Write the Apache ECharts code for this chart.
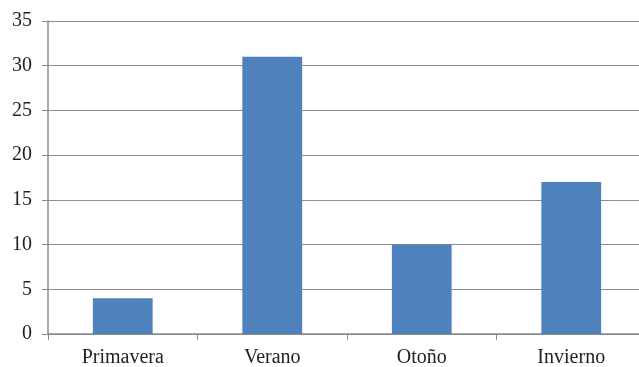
<!DOCTYPE html>
<html>
<head>
<meta charset="utf-8">
<title>Estaciones</title>
<script src="https://cdn.jsdelivr.net/npm/echarts@6/dist/echarts.min.js"></script>
<style>
  html, body { margin: 0; padding: 0; background: #fff; }
  #chart { width: 639px; height: 367px; }
</style>
</head>
<body>
<div id="chart"></div>
<script>
    // datos
    var estaciones = ['Primavera', 'Verano', 'Otoño', 'Invierno'];
    var valores = [4, 31, 10, 17];
    var yMin = 0, yMax = 35, yPaso = 5;

    var gris = '#8c8c8c';
    var fuente = '"Liberation Serif", "DejaVu Serif", serif';
    var chart = echarts.init(document.getElementById('chart'));
    var option = {
        animation: false,
        textStyle: { fontFamily: fuente },
        grid: { left: 48, top: 21, right: -7, bottom: 33, containLabel: false, outerBoundsMode: 'none' },
        xAxis: {
            type: 'category',
            data: estaciones,
            axisLine: { lineStyle: { color: gris, width: 1.5 } },
            axisTick: { show: true, length: 6, lineStyle: { color: gris } },
            axisLabel: { color: '#222', fontSize: 20, margin: 14, fontFamily: fuente }
        },
        yAxis: {
            type: 'value',
            min: yMin,
            max: yMax,
            interval: yPaso,
            axisLine: { show: true, lineStyle: { color: gris, width: 1.5 } },
            axisTick: { show: true, length: 6, lineStyle: { color: gris } },
            axisLabel: { color: '#222', fontSize: 20, margin: 16, fontFamily: fuente },
            splitLine: { lineStyle: { color: gris, width: 1 } }
        },
        series: [{
            type: 'bar',
            data: valores,
            barCategoryGap: '60%',
            itemStyle: { color: '#4f81bd' }
        }]
    };
    chart.setOption(option);
</script>
</body>
</html>
